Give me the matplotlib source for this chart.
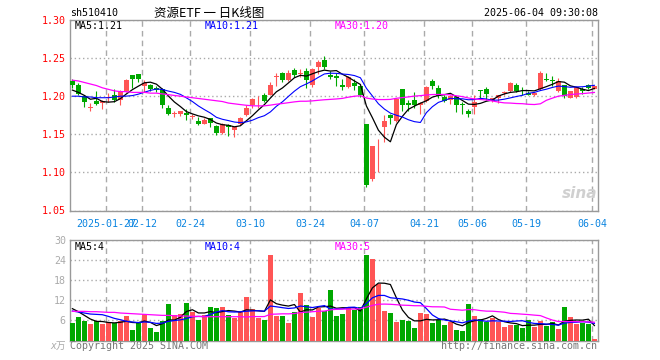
import numpy as np
import pandas as pd
import matplotlib
matplotlib.use("Agg")
import matplotlib.pyplot as plt

# ---------------- data ----------------
dates = (
    ["2025-01-%02d" % d for d in [17, 20, 21, 22, 23, 24, 27]]
    + ["2025-02-%02d" % d for d in [5, 6, 7, 10, 11, 12, 13, 14, 17, 18, 19, 20, 21, 24, 25, 26, 27, 28]]
    + ["2025-03-%02d" % d for d in [3, 4, 5, 6, 7, 10, 11, 12, 13, 14, 17, 18, 19, 20, 21, 24, 25, 26, 27, 28, 31]]
    + ["2025-04-%02d" % d for d in [1, 2, 3, 7, 8, 9, 10, 11, 14, 15, 16, 17, 18, 21, 22, 23, 24, 25, 28, 29, 30]]
    + ["2025-05-%02d" % d for d in [6, 7, 8, 9, 12, 13, 14, 15, 16, 19, 20, 21, 22, 23, 26, 27, 28, 29, 30]]
    + ["2025-06-%02d" % d for d in [3, 4]]
)

opens = [1.220, 1.215, 1.200, 1.185, 1.194, 1.191, 1.197, 1.202, 1.195, 1.207,
         1.228, 1.229, 1.213, 1.215, 1.211, 1.210, 1.184, 1.177, 1.176, 1.178,
         1.173, 1.168, 1.164, 1.172, 1.161, 1.152, 1.162, 1.155, 1.163, 1.175,
         1.188, 1.197, 1.202, 1.202, 1.225, 1.231, 1.221, 1.234, 1.229, 1.233,
         1.215, 1.238, 1.248, 1.228, 1.227, 1.215, 1.212, 1.217, 1.213, 1.164,
         1.091, 1.142, 1.159, 1.175, 1.168, 1.210, 1.191, 1.195, 1.188, 1.194,
         1.220, 1.211, 1.199, 1.195, 1.199, 1.190, 1.181, 1.186, 1.208, 1.210,
         1.194, 1.197, 1.204, 1.207, 1.215, 1.206, 1.204, 1.202, 1.210, 1.223,
         1.221, 1.207, 1.215, 1.198, 1.199, 1.209, 1.215, 1.210]
closes = [1.215, 1.203, 1.192, 1.186, 1.190, 1.194, 1.199, 1.195, 1.206, 1.221,
          1.222, 1.222, 1.217, 1.210, 1.208, 1.189, 1.177, 1.178, 1.180, 1.175,
          1.174, 1.164, 1.169, 1.165, 1.152, 1.163, 1.160, 1.159, 1.172, 1.185,
          1.196, 1.198, 1.194, 1.215, 1.226, 1.221, 1.231, 1.228, 1.231, 1.221,
          1.236, 1.245, 1.238, 1.225, 1.224, 1.212, 1.225, 1.214, 1.202, 1.083,
          1.135, 1.143, 1.168, 1.172, 1.196, 1.189, 1.189, 1.189, 1.191, 1.212,
          1.213, 1.200, 1.194, 1.200, 1.189, 1.189, 1.176, 1.192, 1.207, 1.203,
          1.197, 1.202, 1.206, 1.217, 1.207, 1.205, 1.202, 1.204, 1.231, 1.221,
          1.220, 1.220, 1.200, 1.207, 1.212, 1.207, 1.211, 1.214]
highs = [1.222, 1.217, 1.202, 1.191, 1.207, 1.195, 1.204, 1.209, 1.208, 1.223,
         1.228, 1.229, 1.221, 1.216, 1.214, 1.211, 1.189, 1.181, 1.180, 1.183,
         1.177, 1.173, 1.172, 1.172, 1.162, 1.165, 1.163, 1.161, 1.173, 1.189,
         1.198, 1.200, 1.204, 1.218, 1.230, 1.232, 1.234, 1.237, 1.236, 1.237,
         1.237, 1.247, 1.253, 1.233, 1.231, 1.223, 1.226, 1.223, 1.213, 1.164,
         1.135, 1.144, 1.175, 1.177, 1.197, 1.210, 1.195, 1.205, 1.192, 1.213,
         1.223, 1.215, 1.201, 1.201, 1.199, 1.192, 1.183, 1.202, 1.208, 1.212,
         1.197, 1.202, 1.207, 1.218, 1.217, 1.212, 1.207, 1.205, 1.233, 1.230,
         1.227, 1.224, 1.215, 1.207, 1.212, 1.212, 1.216, 1.214]
lows = [1.211, 1.201, 1.186, 1.181, 1.189, 1.183, 1.193, 1.193, 1.189, 1.206,
        1.211, 1.219, 1.206, 1.207, 1.205, 1.184, 1.175, 1.173, 1.174, 1.169,
        1.170, 1.162, 1.163, 1.159, 1.149, 1.151, 1.148, 1.147, 1.162, 1.174,
        1.184, 1.184, 1.193, 1.201, 1.214, 1.218, 1.220, 1.225, 1.225, 1.211,
        1.212, 1.229, 1.236, 1.223, 1.214, 1.208, 1.211, 1.208, 1.199, 1.081,
        1.089, 1.101, 1.140, 1.164, 1.166, 1.180, 1.181, 1.184, 1.176, 1.193,
        1.210, 1.197, 1.193, 1.190, 1.179, 1.177, 1.173, 1.176, 1.197, 1.195,
        1.192, 1.191, 1.202, 1.205, 1.206, 1.201, 1.201, 1.200, 1.208, 1.220,
        1.214, 1.206, 1.197, 1.197, 1.198, 1.203, 1.210, 1.210]
volumes = [5.2, 7.0, 5.8, 4.9, 5.7, 4.9, 5.6, 5.2, 5.8, 7.2,
           3.1, 5.2, 7.8, 3.7, 2.5, 5.8, 10.9, 7.6, 7.8, 11.2,
           8.4, 6.1, 7.6, 9.9, 9.6, 10.0, 7.6, 6.8, 8.4, 13.0,
           9.4, 6.6, 6.1, 25.5, 7.3, 7.3, 5.2, 8.4, 14.2, 10.7,
           7.1, 9.6, 8.9, 15.1, 7.4, 7.9, 9.6, 9.0, 10.1, 25.5,
           24.3, 16.8, 8.8, 8.2, 5.6, 6.1, 5.8, 3.6, 8.2, 7.9,
           5.2, 6.1, 4.6, 5.4, 3.1, 2.8, 10.9, 7.3, 6.4, 5.6,
           6.6, 5.4, 4.0, 4.6, 4.6, 3.6, 6.1, 4.0, 5.8, 4.4,
           5.4, 3.4, 9.9, 7.0, 4.9, 5.2, 4.8, 0.4]

# moving-average values at the left edge (window reaches before the visible range)
price_ma5_head = [1.208, 1.205, 1.201, 1.196]
price_ma10_head = [1.200, 1.200, 1.199, 1.199, 1.198, 1.198, 1.198, 1.199, 1.200]
price_ma30_head = [1.221, 1.220, 1.218, 1.216, 1.214, 1.211, 1.209, 1.207, 1.206, 1.206,
                   1.205, 1.205, 1.205, 1.204, 1.204, 1.203, 1.202, 1.201, 1.200, 1.199,
                   1.198, 1.197, 1.196, 1.195, 1.194, 1.193, 1.191, 1.190, 1.189]
vol_ma5_head = [9.5, 8.6, 7.5, 6.4]
vol_ma10_head = [8.8, 8.5, 8.2, 7.9, 7.8, 7.7, 7.2, 6.6, 6.2]
vol_ma30_head = [8.7, 8.7, 8.7, 8.6, 8.6, 8.5, 8.4, 8.4, 8.2, 8.1,
                 8.0, 7.9, 7.8, 7.7, 7.6, 7.5, 7.5, 7.4, 7.3, 7.3,
                 7.2, 7.2, 7.1, 7.1, 7.1, 7.1, 7.1, 7.1, 7.1]

tick_dates = ["2025-01-27", "2025-02-12", "2025-02-24", "2025-03-10", "2025-03-24",
              "2025-04-07", "2025-04-21", "2025-05-06", "2025-05-19", "2025-06-04"]
tick_labels = ["2025-01-27", "02-12", "02-24", "03-10", "03-24",
               "04-07", "04-21", "05-06", "05-19", "06-04"]
price_ticks = [1.05, 1.10, 1.15, 1.20, 1.25, 1.30]
vol_ticks = [6, 12, 18, 24, 30]

code = "sh510410"
title = "资源ETF 一 日K线图"
stamp = "2025-06-04 09:30:08"
price_ma_labels = ["MA5:1.21", "MA10:1.21", "MA30:1.20"]
vol_ma_labels = ["MA5:4", "MA10:4", "MA30:5"]
unit_label = "x万"
copyright_text = "Copyright 2025 SINA.COM"
url_text = "http://finance.sina.com.cn"

# ---------------- helpers ----------------
def moving_average(values, n, head):
    m = pd.Series(values, dtype=float).rolling(n).mean().to_numpy()
    m[:len(head)] = head
    return m

o = np.array(opens); c = np.array(closes); h = np.array(highs); l = np.array(lows)
v = np.array(volumes)
n = len(c)
x = np.arange(n) + 0.4
up = c >= o
RED = "#ff5555"
GREEN = "#00a800"
cols = np.where(up, RED, GREEN)
GRID = "#aaaaaa"
SPINE = "#999999"
MONO = ["DejaVu Sans Mono", "Noto Sans CJK SC"]
plt.rcParams["font.family"] = MONO

W, H = 660, 360
fig = plt.figure(figsize=(W / 100, H / 100), dpi=100)
fig.patch.set_facecolor("white")

def fx(px): return px / W
def fy(py): return 1 - py / H

ax = fig.add_axes([fx(70), fy(210.5), 528 / W, 190.5 / H])
axv = fig.add_axes([fx(70), fy(340.5), 528 / W, 100.5 / H])

tick_pos = [dates.index(d) for d in tick_dates]

for a in (ax, axv):
    a.set_xlim(0, n)
    for s in a.spines.values():
        s.set_color(SPINE)
        s.set_linewidth(1.0)
    a.set_xticks(tick_pos)
    a.xaxis.grid(True, color=GRID, linestyle=(0, (4, 3)), linewidth=1.0)
    a.yaxis.grid(True, color=GRID, linestyle=(0, (1, 2)), linewidth=1.0)
    a.set_axisbelow(True)
    a.tick_params(length=0)

# ---------------- price panel ----------------
ax.set_ylim(1.05, 1.30)
ax.set_yticks(price_ticks)
ax.set_yticklabels(["%.2f" % t for t in price_ticks], color="red", fontsize=7.2)
ax.tick_params(axis="y", pad=3)
ax.set_xticklabels(tick_labels, color="#0a84e0", fontsize=7.2)
ax.tick_params(axis="x", pad=6)

ax.vlines(x, l, h, colors=cols, linewidth=0.8, zorder=3)
body_bottom = np.minimum(o, c)
body_h = np.maximum(np.abs(c - o), 0.0011)
ax.bar(x, body_h, bottom=body_bottom, width=0.8, color=cols, linewidth=0, zorder=4)

ma5 = moving_average(c, 5, price_ma5_head)
ma10 = moving_average(c, 10, price_ma10_head)
ma30 = moving_average(c, 30, price_ma30_head)
ax.plot(x, ma5, color="black", linewidth=0.9, zorder=5)
ax.plot(x, ma10, color="#0000ff", linewidth=0.8, zorder=5)
ax.plot(x, ma30, color="#ff00ff", linewidth=0.9, zorder=5)

fig.text(fx(75), fy(26), price_ma_labels[0], color="black", fontsize=7.2, va="center")
fig.text(fx(205), fy(26), price_ma_labels[1], color="#0000ff", fontsize=7.2, va="center")
fig.text(fx(335), fy(26), price_ma_labels[2], color="#ff00ff", fontsize=7.2, va="center")

# ---------------- volume panel ----------------
axv.set_ylim(0, 30)
axv.set_yticks(vol_ticks)
axv.set_yticklabels([str(t) for t in vol_ticks], color="#aaaaaa", fontsize=7.2)
axv.tick_params(axis="y", pad=3)
axv.set_xticklabels([])
axv.bar(x, v, width=0.8, color=cols, linewidth=0, zorder=3)

vma5 = moving_average(v, 5, vol_ma5_head)
vma10 = moving_average(v, 10, vol_ma10_head)
vma30 = moving_average(v, 30, vol_ma30_head)
axv.plot(x, vma5, color="black", linewidth=0.9, zorder=5)
axv.plot(x, vma10, color="#0000ff", linewidth=0.9, zorder=5)
axv.plot(x, vma30, color="#ff00ff", linewidth=0.9, zorder=5)

fig.text(fx(75), fy(247), vol_ma_labels[0], color="black", fontsize=7.2, va="center")
fig.text(fx(205), fy(247), vol_ma_labels[1], color="#0000ff", fontsize=7.2, va="center")
fig.text(fx(335), fy(247), vol_ma_labels[2], color="#ff00ff", fontsize=7.2, va="center")

# ---------------- header / footer ----------------
fig.text(fx(70), fy(13), code, color="black", fontsize=7.2, va="center")
fig.text(fx(209), fy(13), title, color="black", fontsize=9, va="center", ha="center",
         family=["Noto Sans CJK SC", "DejaVu Sans"])
fig.text(fx(598), fy(13), stamp, color="black", fontsize=7.2, va="center", ha="right")

fig.text(fx(50), fy(346), unit_label, color="#aaaaaa", fontsize=7, va="center", style="italic")
fig.text(fx(70), fy(346), copyright_text, color="#777777", fontsize=7.2, va="center")
fig.text(fx(597), fy(346), url_text, color="#777777", fontsize=7.2, va="center", ha="right")

fig.text(fx(580), fy(193), "sina", color="#d0d0d0", fontsize=11, va="center", ha="center",
         style="italic", weight="bold", family=["DejaVu Sans"])

fig.savefig("out.png", dpi=100, facecolor="white")
